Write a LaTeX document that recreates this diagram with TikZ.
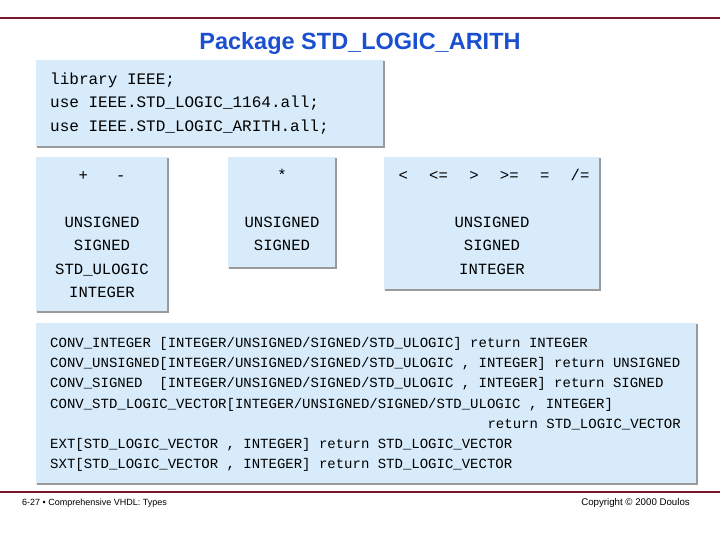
\documentclass[tikz,border=0pt]{standalone}
\usepackage{fontspec}
\setmainfont{Liberation Sans}
\setmonofont{Liberation Mono}
\definecolor{boxfill}{HTML}{D7EBFA}
\definecolor{shad}{HTML}{9A9A9A}
\definecolor{rule}{HTML}{7A1530}
\definecolor{titleblue}{HTML}{1A4FD0}
\begin{document}
\begin{tikzpicture}[x=1pt,y=-1pt,
  bx/.style={fill=boxfill},
  sh/.style={draw=shad,line width=2pt},
  big/.style={font=\fontsize{16}{16}\selectfont\ttfamily,anchor=base west,inner sep=0},
  mid/.style={font=\fontsize{15.6}{14}\selectfont\ttfamily,anchor=base,inner sep=0},
  sm/.style={font=\fontsize{14}{13}\selectfont\ttfamily,anchor=base west,inner sep=0}]
\useasboundingbox (0,0) rectangle (720,540);
\draw[rule,line width=2.5pt] (0,18) -- (720,18);
\draw[rule,line width=2pt] (0,492) -- (720,492);
\node[font=\bfseries\fontsize{23.5}{24}\selectfont,text=titleblue] (title) at (360,43) {Package STD\_LOGIC\_ARITH};
% boxes
\foreach \a/\b/\c/\d in {36/60/384/147, 36/157/168/312, 228/157/336/268, 384/157/600/290, 36/323/697/484}{
  \fill[bx] (\a,\b) rectangle (\c,\d);
  \draw[sh] (\a+1,\d) -- (\c,\d) -- (\c,\b+1);
}
\node[big] (l1) at (50,85) {library IEEE;};
\node[big] (l2) at (50,108) {use IEEE.STD\_LOGIC\_1164.all;};
\node[big] (l3) at (50,132) {use IEEE.STD\_LOGIC\_ARITH.all;};
\node[mid] (o1) at (102,181) {+\ \ \ -};
\node[mid] (t1) at (102,228) {UNSIGNED};
\node[mid] (t2) at (102,251) {SIGNED};
\node[mid] (t3) at (102,274) {STD\_ULOGIC};
\node[mid] (t4) at (102,297) {INTEGER};
\node[mid] (o2) at (282,181) {*};
\node[mid] (u1) at (282,228) {UNSIGNED};
\node[mid] (u2) at (282,251) {SIGNED};
\node[mid] (o3) at (494,181) {<\ \ \,<=\ \ \,>\ \ \,>=\ \ \,=\ \ \,/=};
\node[mid] (v1) at (492,228) {UNSIGNED};
\node[mid] (v2) at (492,251) {SIGNED};
\node[mid] (v3) at (492,274) {INTEGER};
\node[sm] (c1) at (50,347) {CONV\_INTEGER [INTEGER/UNSIGNED/SIGNED/STD\_ULOGIC] return INTEGER};
\node[sm] (c2) at (50,367) {CONV\_UNSIGNED[INTEGER/UNSIGNED/SIGNED/STD\_ULOGIC , INTEGER] return UNSIGNED};
\node[sm] (c3) at (50,387) {CONV\_SIGNED\ \ [INTEGER/UNSIGNED/SIGNED/STD\_ULOGIC , INTEGER] return SIGNED};
\node[sm] (c4) at (50,408) {CONV\_STD\_LOGIC\_VECTOR[INTEGER/UNSIGNED/SIGNED/STD\_ULOGIC , INTEGER]};
\node[sm,anchor=base east] (c5) at (681,428) {return STD\_LOGIC\_VECTOR};
\node[sm] (c6) at (50,448) {EXT[STD\_LOGIC\_VECTOR , INTEGER] return STD\_LOGIC\_VECTOR};
\node[sm] (c7) at (50,468) {SXT[STD\_LOGIC\_VECTOR , INTEGER] return STD\_LOGIC\_VECTOR};
\node[font=\fontsize{9}{10}\selectfont,anchor=base west,inner sep=0] (f1) at (22,505) {6-27 \textbullet\ Comprehensive VHDL: Types};
\node[font=\fontsize{9.7}{10}\selectfont,anchor=base east,inner sep=0] (f2) at (690,505) {Copyright \textcopyright\ 2000 Doulos};
\end{tikzpicture}
\end{document}
